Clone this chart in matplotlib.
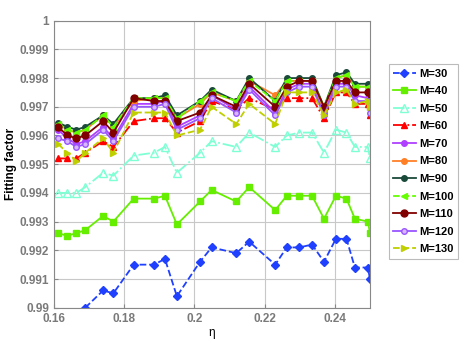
import matplotlib
matplotlib.use("Agg")
import matplotlib.pyplot as plt
import numpy as np

plt.rcParams['font.family'] = ['Liberation Sans', 'DejaVu Sans']

eta = [0.1612, 0.1638, 0.1664, 0.1689, 0.1740, 0.1769, 0.1827, 0.1885, 0.1916, 0.1950,
       0.2016, 0.2049, 0.2119, 0.2156, 0.2230, 0.2263, 0.2299, 0.2335, 0.2369, 0.2403,
       0.2433, 0.2457, 0.2494, 0.2500]

m30 = [np.nan, np.nan, np.nan, 0.9900, 0.9906, 0.9905, 0.9915, 0.9915, 0.9917, 0.9904,
       0.9916, 0.9921, 0.9919, 0.9923, 0.9915, 0.9921, 0.9921, 0.9922, 0.9916, 0.9924,
       0.9924, 0.9914, 0.9914, 0.9910]
m40 = [0.9926, 0.9925, 0.9926, 0.9927, 0.9932, 0.9930, 0.9938, 0.9938, 0.9939, 0.9929,
       0.9937, 0.9941, 0.9937, 0.9942, 0.9934, 0.9939, 0.9939, 0.9939, 0.9931, 0.9939,
       0.9938, 0.9931, 0.9930, 0.9926]
m50 = [0.9940, 0.9940, 0.9940, 0.9942, 0.9947, 0.9946, 0.9953, 0.9954, 0.9956, 0.9947,
       0.9954, 0.9958, 0.9956, 0.9961, 0.9956, 0.9960, 0.9961, 0.9961, 0.9954, 0.9962,
       0.9961, 0.9956, 0.9956, 0.9952]
m60 = [0.9952, 0.9952, 0.9952, 0.9954, 0.9958, 0.9956, 0.9965, 0.9966, 0.9966, 0.9961,
       0.9965, 0.9972, 0.9969, 0.9973, 0.9969, 0.9973, 0.9973, 0.9973, 0.9966, 0.9975,
       0.9975, 0.9971, 0.9971, 0.9967]
m70 = [0.9962, 0.9959, 0.9957, 0.9958, 0.9963, 0.9959, 0.9971, 0.9971, 0.9972, 0.9963,
       0.9967, 0.9974, 0.9969, 0.9977, 0.9968, 0.9976, 0.9978, 0.9978, 0.9968, 0.9978,
       0.9978, 0.9974, 0.9973, 0.9970]
m80 = [0.9964, 0.9962, 0.9961, 0.9962, 0.9967, 0.9963, 0.9972, 0.9973, 0.9973, 0.9966,
       0.9971, 0.9975, 0.9972, 0.9979, 0.9974, 0.9979, 0.9979, 0.9979, 0.9969, 0.9980,
       0.9981, 0.9977, 0.9977, 0.9975]
m90 = [0.99645, 0.9963, 0.9962, 0.9963, 0.9967, 0.9964, 0.9973, 0.9973, 0.9974, 0.9967,
       0.9972, 0.9976, 0.9972, 0.9980, 0.9972, 0.9980, 0.9980, 0.9980, 0.9970, 0.9981,
       0.9982, 0.9978, 0.9978, 0.9976]
m100 = [0.9964, 0.9962, 0.9961, 0.9962, 0.9967, 0.9963, 0.9973, 0.9973, 0.9973, 0.9966,
        0.9972, 0.9975, 0.9972, 0.9979, 0.9972, 0.9979, 0.9979, 0.9979, 0.9970, 0.9980,
        0.9981, 0.9977, 0.9977, 0.9973]
m110 = [0.9963, 0.9960, 0.9959, 0.9960, 0.9965, 0.9961, 0.9973, 0.9972, 0.9972, 0.9965,
        0.9968, 0.9974, 0.9970, 0.9978, 0.9970, 0.9977, 0.9979, 0.9979, 0.9970, 0.9979,
        0.9979, 0.9975, 0.9975, 0.9972]
m120 = [0.9959, 0.9958, 0.9956, 0.9957, 0.9962, 0.9958, 0.9970, 0.9970, 0.9971, 0.9962,
        0.9966, 0.9973, 0.9968, 0.9976, 0.9967, 0.9975, 0.9977, 0.9977, 0.9967, 0.9977,
        0.9977, 0.9972, 0.9972, 0.9968]
m130 = [0.9957, 0.9954, 0.9951, 0.9954, 0.9959, 0.9954, 0.9968, 0.9968, 0.9968, 0.9960,
        0.9962, 0.9970, 0.9964, 0.9971, 0.9964, 0.9975, 0.9975, 0.9975, 0.9967, 0.9975,
        0.9976, 0.9971, 0.9972, 0.9970]

labels = ['M=30', 'M=40', 'M=50', 'M=60', 'M=70', 'M=80', 'M=90', 'M=100', 'M=110', 'M=120', 'M=130']
series = [m30, m40, m50, m60, m70, m80, m90, m100, m110, m120, m130]
xticks = [0.16, 0.18, 0.20, 0.22, 0.24]
xticklabels = ['0.16', '0.18', '0.2', '0.22', '0.24']
yticks = [0.990, 0.991, 0.992, 0.993, 0.994, 0.995, 0.996, 0.997, 0.998, 0.999, 1.0]
yticklabels = ['0.99', '0.991', '0.992', '0.993', '0.994', '0.995', '0.996', '0.997', '0.998', '0.999', '1']

styles = [
    dict(color='#2040ff', ls='--', marker='D', ms=4, mfc='#2040ff'),
    dict(color='#66ee00', ls='-', marker='s', ms=4, mfc='#66ee00'),
    dict(color='#7fffd4', ls='-.', marker='^', ms=6, mfc='none'),
    dict(color='#ff0000', ls='-.', marker='^', ms=5, mfc='#ff0000'),
    dict(color='#b040ff', ls='-', marker='o', ms=4, mfc='#b040ff'),
    dict(color='#ff7f27', ls='-', marker='o', ms=4, mfc='#ff7f27'),
    dict(color='#1a4a3a', ls='-', marker='o', ms=4, mfc='#1a4a3a'),
    dict(color='#66ff00', ls='--', marker='<', ms=5, mfc='#66ff00'),
    dict(color='#800000', ls='-', marker='o', ms=5, mfc='#800000'),
    dict(color='#9955ff', ls='-', marker='o', ms=4, mfc='#d8b8ff'),
    dict(color='#bfcf00', ls='--', marker='>', ms=5, mfc='#bfcf00'),
]

fig = plt.figure(figsize=(4.63, 3.44), dpi=100)
ax = fig.add_axes([0.1166, 0.1055, 0.6825, 0.8345])

for vals, lab, st in zip(series, labels, styles):
    ax.plot(eta, vals, label=lab, lw=1.3, color=st['color'], ls=st['ls'],
            marker=st['marker'], ms=st['ms'], mfc=st['mfc'], mec=st['color'],
            clip_on=True)

ax.set_xlim(0.16, 0.25)
ax.set_ylim(0.99, 1.0)
ax.set_xticks(xticks)
ax.set_xticklabels(xticklabels)
ax.set_yticks(yticks)
ax.set_yticklabels(yticklabels)
ax.grid(True, color='#c8c8c8', lw=0.8)
ax.set_axisbelow(True)
for s in ax.spines.values():
    s.set_color('#888888')
    s.set_linewidth(0.8)
ax.tick_params(direction='in', length=3, colors='#888888', labelsize=8.5,
               labelcolor='#7a7a7a')
for t in ax.get_xticklabels() + ax.get_yticklabels():
    t.set_fontweight('bold')

ax.set_ylabel('Fitting factor', fontsize=8.5, fontweight='bold', labelpad=2)
ax.set_xlabel('η', fontsize=8.5, labelpad=2)

leg = ax.legend(loc='upper left', bbox_to_anchor=(1.06, 0.848),
                prop={'weight': 'bold', 'size': 8}, frameon=True, fancybox=False,
                edgecolor='#aaaaaa', handlelength=2.0, handletextpad=0.3,
                borderpad=0.4, labelspacing=0.68, borderaxespad=0)
leg.get_frame().set_linewidth(0.8)

fig.savefig('out.png', dpi=100)
